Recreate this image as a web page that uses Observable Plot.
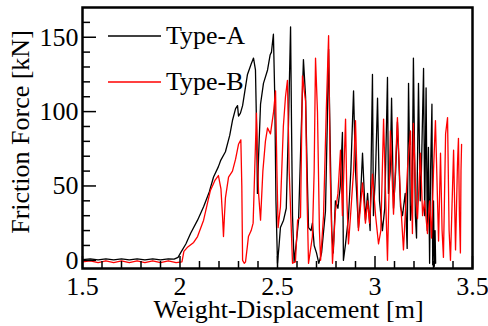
<!DOCTYPE html>
<html>
<head>
<meta charset="utf-8">
<script src="https://cdn.jsdelivr.net/npm/d3@7"></script>
<script src="https://cdn.jsdelivr.net/npm/@observablehq/plot@0.6"></script>
<style>
  html, body { margin: 0; padding: 0; background: #fff; }
  #chart { position: relative; width: 488px; height: 326px; }
  #chart svg, #chart svg text { font-family: "Liberation Serif", "Tinos", "Times New Roman", "DejaVu Serif", serif; }
</style>
</head>
<body>
<div id="chart"></div>
<script>
// ---- data ----
const seriesNames = ["Type-A", "Type-B"];
const seriesColors = ["#000000", "#ff0000"];

const typeA_x = [1.50,1.54,1.58,1.62,1.66,1.70,1.74,1.78,1.82,1.86,1.90,1.94,1.97,1.99,2.003,2.03,2.054,2.09,2.121,2.15,2.172,2.197,2.208,2.233,2.255,2.269,2.285,2.295,2.300,2.310,2.321,2.346,2.365,2.377,2.387,2.394,2.397,2.403,2.413,2.428,2.449,2.462,2.469,2.479,2.486,2.492,2.500,2.508,2.515,2.531,2.545,2.556,2.567,2.572,2.577,2.585,2.595,2.608,2.620,2.633,2.644,2.652,2.659,2.672,2.679,2.688,2.700,2.712,2.726,2.746,2.755,2.762,2.770,2.778,2.786,2.797,2.810,2.822,2.833,2.838,2.848,2.864,2.876,2.890,2.900,2.915,2.925,2.936,2.951,2.962,2.975,2.987,2.992,3.003,3.013,3.023,3.038,3.050,3.064,3.069,3.078,3.085,3.095,3.106,3.115,3.131,3.141,3.155,3.165,3.172,3.182,3.190,3.197,3.207,3.213,3.223,3.232,3.238,3.249,3.255,3.262,3.268,3.274,3.280,3.285,3.292,3.296,3.300,3.304,3.308,3.311];
const typeA_y = [0.5,1.0,0.3,1.0,0.3,1.0,0.3,1.0,0.3,1.0,0.3,1.0,0.8,2.0,5,11,18,27,36,46,56,63,67,73,84,94,102,104,97,99,104,125,132,136,128,80,45,70,105,119,128,138,140,152,110,40,-2,10,22,27,35,90,157,90,30,-1,10,27,80,135,110,60,22,20,25,10,5,-2,5,33,90,142,80,20,5,40,35,50,86,0,10,29,60,114,60,22,40,72,27,45,20,125,30,60,109,40,20,35,123,45,60,109,35,60,93,36,30,45,8,119,27,40,136,30,15,119,40,60,129,30,116,20,76,-2,60,105,-3,40,-4,20,-2];

const typeB_x = [1.50,1.54,1.58,1.62,1.66,1.70,1.74,1.78,1.82,1.86,1.90,1.94,1.98,2.010,2.020,2.040,2.070,2.090,2.121,2.140,2.156,2.180,2.197,2.210,2.218,2.223,2.228,2.233,2.249,2.269,2.285,2.300,2.312,2.317,2.321,2.330,2.336,2.346,2.351,2.365,2.375,2.383,2.392,2.397,2.403,2.413,2.425,2.438,2.449,2.464,2.480,2.490,2.497,2.503,2.515,2.530,2.541,2.551,2.560,2.577,2.592,2.603,2.618,2.628,2.644,2.652,2.659,2.679,2.688,2.695,2.705,2.715,2.721,2.736,2.750,2.762,2.770,2.782,2.797,2.810,2.823,2.833,2.849,2.856,2.864,2.874,2.890,2.900,2.915,2.936,2.951,2.962,2.972,2.987,3.003,3.018,3.030,3.044,3.055,3.064,3.079,3.095,3.115,3.131,3.146,3.167,3.182,3.192,3.197,3.210,3.218,3.233,3.244,3.254,3.269,3.280,3.290,3.300,3.310,3.326,3.336,3.344,3.351,3.362,3.372,3.380,3.387,3.403,3.413,3.423,3.428,3.433,3.438,3.441,3.444];
const typeB_y = [-1,-0.3,-1.5,-0.3,-1.5,-0.3,-1.5,-0.3,-1.5,-0.3,-1.5,-0.3,-1.5,-1,6,9,12,16,27,38,47,54,57,48,30,16,30,42,56,60,68,78,81,50,0,-2,-1,10,16,20,25,60,99,70,45,27,60,80,89,85,100,114,60,22,36,90,110,121,60,-2,-1,27,29,124,107,40,-2,16,60,136,100,20,0,30,100,151,60,-2,33,45,74,30,95,40,11,29,60,94,20,52,25,40,25,58,30,11,20,95,40,0,87,31,96,40,7,62,87,18,92,40,28,72,30,40,18,40,15,60,94,13,72,20,2,85,96,20,0,74,7,65,82,30,5,60,78];

const xLabels = [1.5, 2, 2.5, 3, 3.5];
const xMinor = [1.6,1.7,1.8,1.9,2.1,2.2,2.3,2.4,2.6,2.7,2.8,2.9,3.1,3.2,3.3,3.4];
const yLabels = [0, 50, 100, 150];
const yMinor = [10,20,30,40,60,70,80,90,110,120,130,140,160];
const xTitle = "Weight-Displacement [m]";
const yTitle = "Friction Force [kN]";

const rows = [
  ...typeA_x.map((x, i) => ({x, y: typeA_y[i], s: seriesNames[0]})),
  ...typeB_x.map((x, i) => ({x, y: typeB_y[i], s: seriesNames[1]}))
];

const font = "Liberation Serif";
const fs = 26;

const chart = Plot.plot({
  width: 488,
  height: 326,
  marginLeft: 82,
  marginRight: 16,
  marginTop: 7,
  marginBottom: 58,
  style: {fontFamily: font, fontSize: fs + "px", background: "#fff", color: "#000"},
  x: {domain: [1.5, 3.5]},
  y: {domain: [-5.5, 170]},
  color: {domain: seriesNames, range: seriesColors},
  marks: [
    Plot.line(rows.filter(d => d.s === seriesNames[0]), {x: "x", y: "y", stroke: "s", strokeWidth: 1.3, clip: true}),
    Plot.line(rows.filter(d => d.s === seriesNames[1]), {x: "x", y: "y", stroke: "s", strokeWidth: 1.3, clip: true}),
    Plot.axisX(xLabels, {tickSize: 0, tickPadding: 8, tickFormat: d => String(d), label: null, fontSize: fs, fontFamily: font}),
    Plot.axisX(xLabels, {tickSize: -12, fill: "none", label: null, strokeWidth: 1.5}),
    Plot.axisX(xMinor, {tickSize: -7, fill: "none", label: null, strokeWidth: 1.5}),
    Plot.axisY(yLabels, {tickSize: 0, tickPadding: 4, tickFormat: d => String(d), label: null, fontSize: fs, fontFamily: font}),
    Plot.axisY(yLabels, {tickSize: -14, fill: "none", label: null, strokeWidth: 1.5}),
    Plot.axisY(yMinor, {tickSize: -8, fill: "none", label: null, strokeWidth: 1.5}),
    Plot.frame({stroke: "#000", strokeWidth: 2.5}),
    Plot.text([xTitle], {frameAnchor: "bottom", dy: 41, dx: 11, textAnchor: "middle", lineAnchor: "middle", fontSize: fs, fontFamily: font, text: d => d}),
    Plot.text([yTitle], {frameAnchor: "left", dx: -62, dy: -6, rotate: -90, textAnchor: "middle", lineAnchor: "middle", fontSize: fs, fontFamily: font, text: d => d})
  ]
});

// legend inside the plot area, top-left
const svg = d3.select(chart);
const lg = svg.append("g").attr("font-family", font).attr("font-size", fs).attr("text-anchor", "start");
const legendRows = [36, 82];
seriesNames.forEach((name, i) => {
  const yy = legendRows[i];
  lg.append("line").attr("x1", 108).attr("x2", 161).attr("y1", yy).attr("y2", yy)
    .attr("stroke", seriesColors[i]).attr("stroke-width", 1.3);
  lg.append("text").attr("x", 166).attr("y", yy).attr("dy", "0.32em").attr("fill", "#000").text(name);
});

document.getElementById("chart").appendChild(chart);
</script>
</body>
</html>
